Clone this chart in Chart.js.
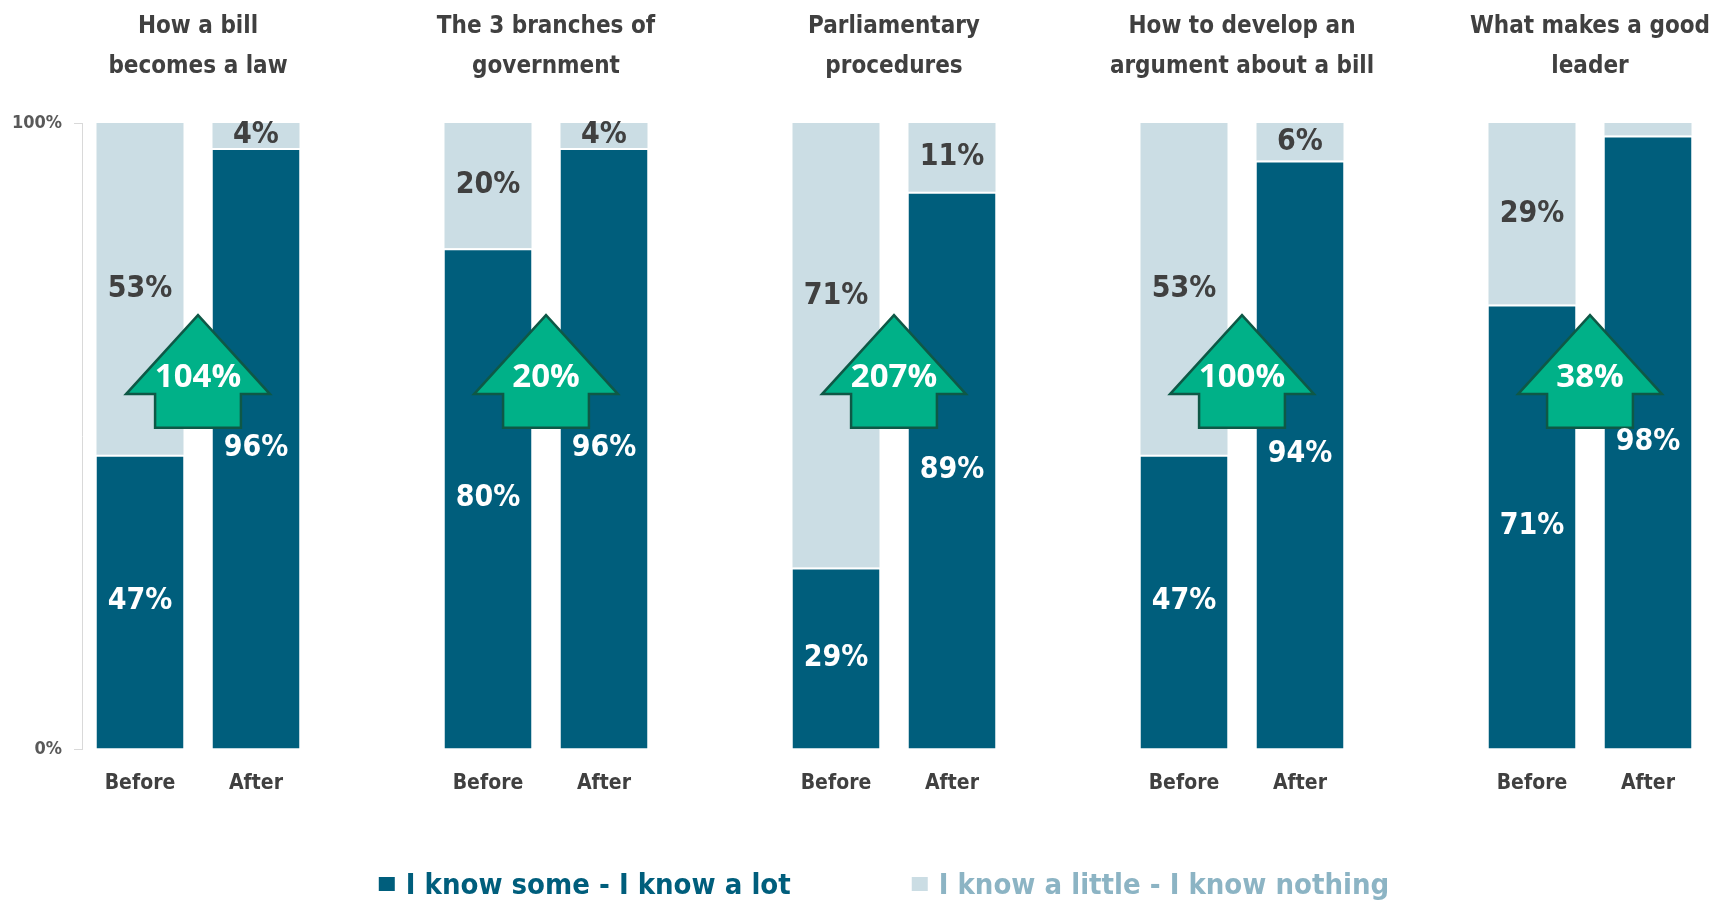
<!DOCTYPE html>
<html>
<head>
<meta charset="utf-8">
<script src="https://cdn.jsdelivr.net/npm/chart.js@4.4.1/dist/chart.umd.min.js"></script>
<style>
  html, body { margin: 0; padding: 0; background: #fff; }
  #wrap { width: 1723px; height: 900px; }
</style>
</head>
<body>
<div id="wrap"><canvas id="knowChart"></canvas></div>
<script>
// ==============================
// DATA
// ==============================
const topics = [
    ["How a bill", "becomes a law"],
    ["The 3 branches of", "government"],
    ["Parliamentary", "procedures"],
    ["How to develop an", "argument about a bill"],
    ["What makes a good", "leader"]
];
const phases       = ["Before", "After"];
const someBefore   = [47, 80, 29, 47, 71];
const someAfter    = [96, 96, 89, 94, 98];
const littleBefore = [53, 20, 71, 53, 29];
const littleAfter  = [4, 4, 11, 6, 2];
const gains        = ["104%", "20%", "207%", "100%", "38%"];
const yTicks       = [0, 100];
const seriesNames  = ["I know some - I know a lot", "I know a little - I know nothing"];

// ==============================
// STYLE
// ==============================
const DARK       = "#005E7C";
const LIGHT      = "#CBDDE4";
const LIGHT_TEXT = "#8CB4C4";
const TEXT       = "#404040";
const GREEN      = "#00B188";
const GREEN_EDGE = "#0E5846";
const NARROW  = "'DejaVu Sans Condensed', 'DejaVu Sans', sans-serif";

// arrow shape in axis units (y in %, widths in categories)
const arrowShape = { tip: 69.3, neck: 56.7, base: 51.3, text: 59.4, head: 0.62, shaft: 0.37 };

// ==============================
// HELPERS
// ==============================
// Before, After, (spacer) for each topic
function interleave(before, after){
    const out = [];
    before.forEach((b, i) => {
        out.push(b, after[i]);
        if(i < before.length - 1) out.push(null);
    });
    return out;
}

const labels = interleave(topics.map(() => phases[0]), topics.map(() => phases[1])).map(l => l || "");
const groupCenters = topics.map((t, i) => i * 3 + 0.5);

function arrowGeom(chart, i){
    const xs = chart.scales.x, ys = chart.scales.y;
    const unit = xs.getPixelForValue(1) - xs.getPixelForValue(0);
    return {
        cx: xs.getPixelForValue(groupCenters[i]),
        head: arrowShape.head * unit,
        shaft: arrowShape.shaft * unit,
        tip: ys.getPixelForValue(arrowShape.tip),
        neck: ys.getPixelForValue(arrowShape.neck),
        base: ys.getPixelForValue(arrowShape.base),
        text: ys.getPixelForValue(arrowShape.text)
    };
}

// ==============================
// PLUGINS
// ==============================
const arrowsAndLabels = {
    id: "arrowsAndLabels",
    afterDatasetsDraw(chart){
        const ctx = chart.ctx;
        ctx.save();

        // -- arrows --
        gains.forEach((g, i) => {
            const a = arrowGeom(chart, i);
            ctx.beginPath();
            ctx.moveTo(a.cx, a.tip);
            ctx.lineTo(a.cx + a.head, a.neck);
            ctx.lineTo(a.cx + a.shaft, a.neck);
            ctx.lineTo(a.cx + a.shaft, a.base);
            ctx.lineTo(a.cx - a.shaft, a.base);
            ctx.lineTo(a.cx - a.shaft, a.neck);
            ctx.lineTo(a.cx - a.head, a.neck);
            ctx.closePath();
            ctx.fillStyle = GREEN;
            ctx.fill();
            ctx.lineWidth = 2.5;
            ctx.strokeStyle = GREEN_EDGE;
            ctx.stroke();

            ctx.fillStyle = "#fff";
            ctx.font = "bold 33px 'Open Sans', Lato, sans-serif";
            ctx.textAlign = "center";
            ctx.textBaseline = "middle";
            ctx.fillText(g, a.cx, a.text);
        });

        // -- value labels --
        ctx.font = "bold 30px " + NARROW;
        chart.data.datasets.forEach((ds, di) => {
            const meta = chart.getDatasetMeta(di);
            meta.data.forEach((bar, j) => {
                const v = ds.data[j];
                if(v == null || v < 3) return;
                let ty = (bar.y + bar.base) / 2;
                const a = arrowGeom(chart, Math.floor(j / 3));
                if(ty > a.tip - 10 && ty < a.base + 10 && Math.abs(bar.x - a.cx) < a.head + bar.width / 2){
                    ty = a.tip - 19;
                }
                ctx.fillStyle = di === 0 ? "#fff" : TEXT;
                ctx.fillText(v + "%", bar.x, ty);
            });
        });
        ctx.restore();
    }
};

const bottomLegend = {
    id: "bottomLegend",
    afterDraw(chart){
        const ctx = chart.ctx;
        ctx.save();
        ctx.font = "bold 29px " + NARROW;
        const boxW = 16, boxH = 14, gap = 11, spacing = 121;
        const items = chart.data.datasets.map(ds => ({ text: ds.label, box: ds.backgroundColor, color: ds.legendColor }));
        const widths = items.map(it => boxW + gap + ctx.measureText(it.text).width);
        const total = widths.reduce((a, b) => a + b, 0) + spacing * (items.length - 1);
        let x = (chart.chartArea.left + chart.chartArea.right) / 2 - 10 - total / 2;
        const baseY = chart.height - 6;
        items.forEach((it, i) => {
            ctx.fillStyle = it.box;
            ctx.fillRect(x, baseY - 17, boxW, boxH);
            ctx.fillStyle = it.color;
            ctx.textAlign = "left";
            ctx.textBaseline = "alphabetic";
            ctx.fillText(it.text, x + boxW + gap, baseY);
            x += widths[i] + spacing;
        });
        ctx.restore();
    }
};

// ==============================
// CHART
// ==============================
const ctx = document.getElementById("knowChart").getContext("2d");

const knowChart = new Chart(ctx, {
    type: "bar",
    data: {
        labels: labels,
        datasets: [{
            label: seriesNames[0],
            data: interleave(someBefore, someAfter),
            backgroundColor: DARK,
            borderColor: "#fff",
            borderWidth: { top: 2, right: 0, bottom: 0, left: 0 },
            borderSkipped: false,
            legendColor: DARK
        }, {
            label: seriesNames[1],
            data: interleave(littleBefore, littleAfter),
            backgroundColor: LIGHT,
            borderWidth: 0,
            legendColor: LIGHT_TEXT
        }]
    },
    options: {
        responsive: true,
        maintainAspectRatio: false,
        animation: false,
        barPercentage: 0.75,
        categoryPercentage: 1.0,
        layout: { padding: { left: 0, right: 17, top: 0, bottom: 0 } },
        plugins: {
            legend: { display: false },
            tooltip: { enabled: false }
        },
        scales: {
            x: {
                stacked: true,
                grid: { display: false, drawTicks: false },
                border: { display: false },
                ticks: {
                    color: TEXT,
                    font: { family: NARROW, size: 21, weight: "bold" },
                    padding: 22,
                    maxRotation: 0,
                    autoSkip: false
                },
                afterFit: axis => {
                    axis.height = 151;
                    axis.paddingLeft = 0;
                    axis.paddingRight = 0;
                }
            },
            xTop: {
                type: "linear",
                position: "top",
                min: -0.5,
                max: 13.5,
                offset: false,
                grid: { display: false, drawTicks: false },
                border: { display: false },
                afterBuildTicks: axis => { axis.ticks = groupCenters.map(v => ({ value: v })); },
                ticks: {
                    callback: (v, i) => topics[i],
                    color: TEXT,
                    font: { family: NARROW, size: 24, weight: "bold", lineHeight: 40 / 24 },
                    padding: 36,
                    maxRotation: 0,
                    autoSkip: false
                },
                afterFit: axis => {
                    axis.height = 123;
                    axis.paddingLeft = 0;
                    axis.paddingRight = 0;
                }
            },
            y: {
                stacked: true,
                min: 0,
                max: 100,
                afterBuildTicks: axis => { axis.ticks = yTicks.map(v => ({ value: v })); },
                ticks: {
                    callback: v => v + "%",
                    color: "#595959",
                    font: { family: NARROW, size: 18, weight: "bold" },
                    padding: 12
                },
                grid: { drawOnChartArea: false, drawTicks: true, tickLength: 8, color: "#D9D9D9" },
                border: { display: true, color: "#D9D9D9", width: 1 },
                afterFit: axis => { axis.width = 82; }
            }
        }
    },
    plugins: [arrowsAndLabels, bottomLegend]
});
</script>
</body>
</html>
